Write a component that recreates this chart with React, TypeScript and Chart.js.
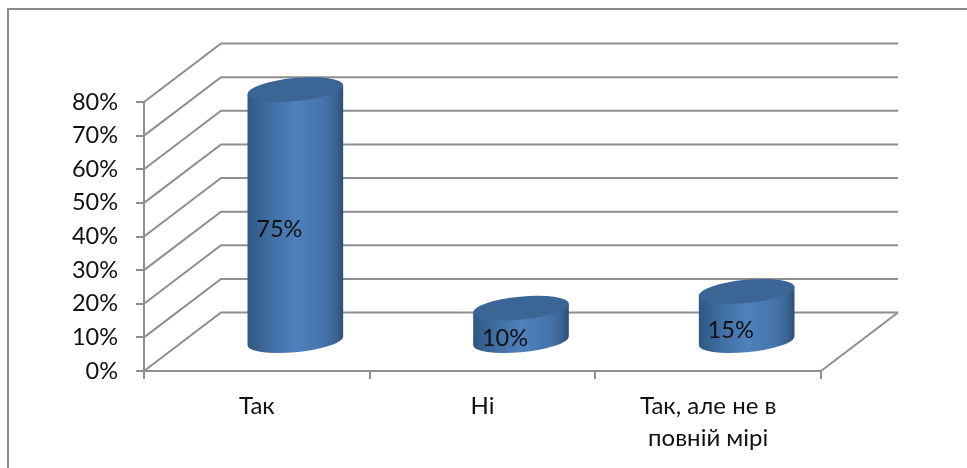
import React, { useEffect, useRef } from "react";
import { Chart, registerables } from "chart.js";

Chart.register(...registerables);

const categories: (string | string[])[] = ["Так", "Ні", ["Так, але не в", "повній мірі"]];
const shares = [75, 10, 15];
const axisTicks = { min: 0, max: 80, step: 10 };

const FONT = "Lato, 'Open Sans', sans-serif";
const GRID = "#8e8e8e";
const DEPTH_X = 77;
const DEPTH_Y = -58.5;
const FRAME = "#8a8a8a";

const scene3d = {
  id: "scene3d",
  beforeDraw(chart: any) {
    const { ctx } = chart;
    ctx.save();
    ctx.strokeStyle = FRAME;
    ctx.lineWidth = 2;
    ctx.beginPath();
    ctx.moveTo(8, 468);
    ctx.lineTo(8, 9);
    ctx.lineTo(967, 9);
    ctx.stroke();
    ctx.restore();
  },
  beforeDatasetsDraw(chart: any) {
    const { ctx, scales, chartArea } = chart;
    const y = scales.y;
    ctx.save();
    ctx.strokeStyle = GRID;
    ctx.lineWidth = 2;
    y.ticks.forEach((t: any) => {
      const py = y.getPixelForValue(t.value);
      ctx.beginPath();
      ctx.moveTo(chartArea.left, py);
      ctx.lineTo(chartArea.left + DEPTH_X, py + DEPTH_Y);
      ctx.lineTo(chartArea.right + DEPTH_X, py + DEPTH_Y);
      ctx.stroke();
    });
    const floor = y.getPixelForValue(0);
    ctx.beginPath();
    ctx.moveTo(chartArea.right + DEPTH_X, floor + DEPTH_Y);
    ctx.lineTo(chartArea.right, floor);
    ctx.stroke();
    ctx.restore();
  },
  afterDatasetsDraw(chart: any) {
    const { ctx } = chart;
    const meta = chart.getDatasetMeta(0);
    const phi = (-5.5 * Math.PI) / 180;
    meta.data.forEach((bar: any, i: number) => {
      const half = bar.width / 2;
      const a = half;
      const b = 11.5;
      const cx = bar.x + DEPTH_X / 2;
      const top = bar.y + DEPTH_Y / 2;
      const base = bar.base + DEPTH_Y / 2;
      const t0 = Math.atan2(-b * Math.sin(phi), a * Math.cos(phi));
      const lx = a * Math.cos(t0) * Math.cos(phi) - b * Math.sin(t0) * Math.sin(phi);
      const ly = a * Math.cos(t0) * Math.sin(phi) + b * Math.sin(t0) * Math.cos(phi);

      const g = ctx.createLinearGradient(cx - lx, 0, cx + lx, 0);
      g.addColorStop(0, "#2f5882");
      g.addColorStop(0.25, "#416fa4");
      g.addColorStop(0.5, "#4f81bd");
      g.addColorStop(0.78, "#4675ad");
      g.addColorStop(0.92, "#3c6494");
      g.addColorStop(1, "#2e4e78");

      ctx.save();
      ctx.beginPath();
      ctx.moveTo(cx + lx, top + ly);
      ctx.lineTo(cx + lx, base + ly);
      ctx.ellipse(cx, base, a, b, phi, t0, t0 + Math.PI);
      ctx.lineTo(cx - lx, top - ly);
      ctx.closePath();
      ctx.fillStyle = g;
      ctx.fill();

      ctx.beginPath();
      ctx.ellipse(cx, top, a, b, phi, 0, Math.PI * 2);
      ctx.fillStyle = "#3b6595";
      ctx.fill();

      ctx.fillStyle = "#111";
      ctx.font = `23.5px ${FONT}`;
      ctx.textAlign = "center";
      ctx.textBaseline = "middle";
      ctx.fillText(`${shares[i]}%`, cx - 16, (top + base) / 2 + 14);
      ctx.restore();
    });
  },
};

export default function App() {
  const ref = useRef<HTMLCanvasElement>(null);
  useEffect(() => {
    const chart = new Chart(ref.current as HTMLCanvasElement, {
      type: "bar",
      data: {
        labels: categories as any,
        datasets: [
          {
            data: shares,
            backgroundColor: "rgba(0,0,0,0)",
            borderWidth: 0,
            barPercentage: 0.4257,
            categoryPercentage: 1,
          },
        ],
      },
      options: {
        responsive: false,
        animation: false,
        layout: { padding: { left: 0, right: 146, top: 102, bottom: 0 } },
        plugins: { legend: { display: false }, tooltip: { enabled: false }, title: { display: false } },
        scales: {
          x: {
            afterFit: (s: any) => {
              s.height = 97;
            },
            border: { color: GRID, width: 2 },
            grid: { drawOnChartArea: false, drawTicks: true, tickLength: 8, color: GRID, lineWidth: 2 },
            ticks: {
              color: "#111",
              font: { family: FONT, size: 24, lineHeight: 1.33 },
              padding: 11,
              maxRotation: 0,
              autoSkip: false,
            },
          },
          y: {
            min: axisTicks.min,
            max: axisTicks.max,
            afterFit: (s: any) => {
              s.width = 144;
            },
            border: { color: GRID, width: 2 },
            grid: { drawOnChartArea: false, drawTicks: true, tickLength: 8, color: GRID, lineWidth: 2 },
            ticks: {
              stepSize: axisTicks.step,
              color: "#111",
              font: { family: FONT, size: 23.5 },
              padding: 18,
              callback: (v: any) => `${v}%`,
            },
          },
        },
      },
      plugins: [scene3d],
    });
    return () => chart.destroy();
  }, []);
  return (
    <div style={{ position: "fixed", left: 0, top: 0, width: 967, height: 468, background: "#fff" }}>
      <canvas ref={ref} width={967} height={468} style={{ display: "block" }} />
    </div>
  );
}
